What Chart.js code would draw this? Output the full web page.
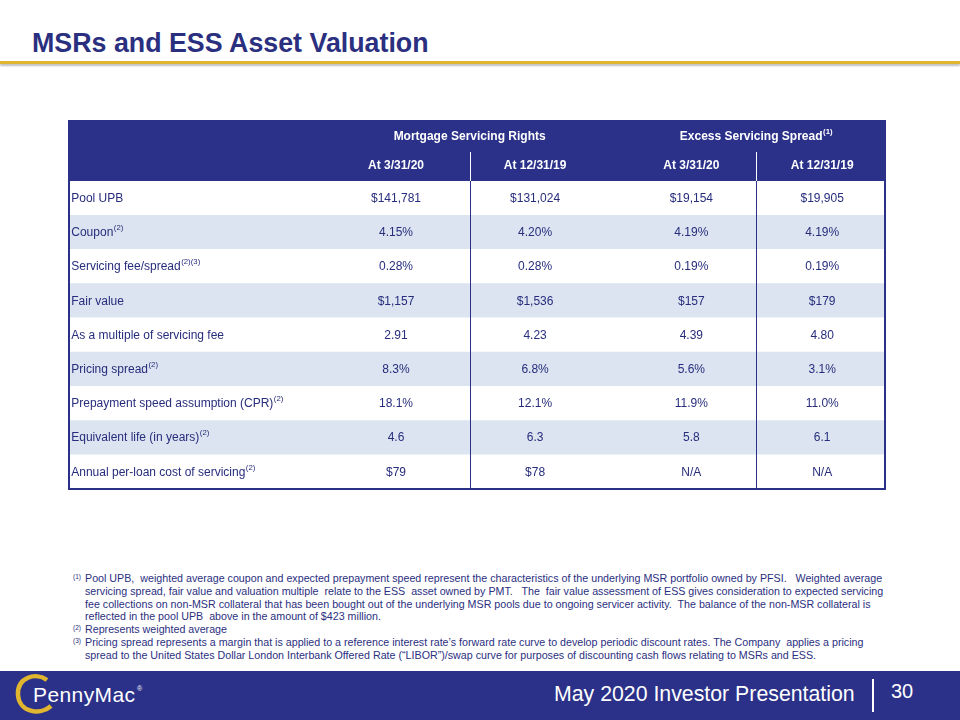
<!DOCTYPE html>
<html lang="en">
  <head>
    <meta charset="UTF-8" />
    <title>MSRs and ESS Asset Valuation</title>
    <script src="https://cdn.jsdelivr.net/npm/chart.js"></script>
    <style>
      body {
        margin: 0;
        width: 960px;
        height: 720px;
        position: relative;
        overflow: hidden;
        background: #fff;
        font-family: "Liberation Sans", Arial, sans-serif;
      }
      .title {
        position: absolute;
        left: 32px;
        top: 28px;
        font-size: 26.8px;
        line-height: 30px;
        font-weight: bold;
        color: #2b2f80;
      }
      .rule {
        position: absolute;
        left: 0;
        top: 61px;
        width: 960px;
        height: 3px;
        background: #e0b630;
        box-shadow: 0 2px 2px rgba(0, 0, 0, 0.25);
      }
      .wrap {
        position: absolute;
        left: 60px;
        top: 110px;
      }
      .notes {
        position: absolute;
        left: 73px;
        top: 572px;
        font-size: 10.7px;
        line-height: 12.75px;
        color: #2b2f80;
        white-space: pre;
      }
      .notes .n {
        display: inline-block;
        width: 12px;
        font-size: 6.5px;
        line-height: 0;
        position: relative;
        top: -3px;
      }
      .notes .i {
        padding-left: 12px;
      }
      .footer {
        position: absolute;
        left: 0;
        top: 671px;
        width: 960px;
        height: 49px;
        background: #2b3189;
        color: #fff;
      }
      .footer .pres {
        position: absolute;
        left: 554px;
        top: 10px;
        font-size: 21.3px;
        line-height: 26px;
      }
      .footer .bar {
        position: absolute;
        left: 872px;
        top: 8px;
        width: 1.5px;
        height: 33px;
        background: #fff;
      }
      .footer .page {
        position: absolute;
        left: 891px;
        top: 8px;
        font-size: 20px;
        line-height: 24px;
      }
      .footer svg {
        position: absolute;
        left: 0;
        top: 0;
      }
    </style>
  </head>
  <body>
    <div class="title">MSRs and ESS Asset Valuation</div>
    <div class="rule"></div>

    <div class="wrap">
      <canvas id="valTable" width="840" height="390"></canvas>
    </div>

    <div class="notes"><span class="n">(1)</span>Pool UPB,  weighted average coupon and expected prepayment speed represent the characteristics of the underlying MSR portfolio owned by PFSI.   Weighted average
<span class="i">servicing spread, fair value and valuation multiple  relate to the ESS  asset owned by PMT.   The  fair value assessment of ESS gives consideration to expected servicing</span>
<span class="i">fee collections on non-MSR collateral that has been bought out of the underlying MSR pools due to ongoing servicer activity.  The balance of the non-MSR collateral is</span>
<span class="i">reflected in the pool UPB  above in the amount of $423 million.</span>
<span class="n">(2)</span>Represents weighted average
<span class="n">(3)</span>Pricing spread represents a margin that is applied to a reference interest rate’s forward rate curve to develop periodic discount rates. The Company  applies a pricing
<span class="i">spread to the United States Dollar London Interbank Offered Rate (“LIBOR”)/swap curve for purposes of discounting cash flows relating to MSRs and ESS.</span></div>

    <div class="footer">
      <svg width="200" height="49">
        <path d="M47 9 C 36 1, 17 6, 18 24 C 19 41, 40 45, 51 35" fill="none" stroke="#e0b630" stroke-width="4.5" />
        <text x="33" y="31" fill="#fff" font-size="21" font-family="Liberation Sans, Arial" textLength="102">PennyMac</text>
        <text x="137" y="20" fill="#fff" font-size="7" font-family="Liberation Sans, Arial">®</text>
      </svg>
      <div class="pres">May 2020 Investor Presentation</div>
      <div class="bar"></div>
      <div class="page">30</div>
    </div>

    <script>
      // table contents
      const rowLabels = [
        "Pool UPB",
        "Coupon",
        "Servicing fee/spread",
        "Fair value",
        "As a multiple of servicing fee",
        "Pricing spread",
        "Prepayment speed assumption (CPR)",
        "Equivalent life (in years)",
        "Annual per-loan cost of servicing",
      ];
      const rowNotes = ["", "(2)", "(2)(3)", "", "", "(2)", "(2)", "(2)", "(2)"];

      const groupHeaders = ["Mortgage Servicing Rights", "Excess Servicing Spread"];
      const groupNotes = ["", "(1)"];
      const colHeaders = ["At 3/31/20", "At 12/31/19", "At 3/31/20", "At 12/31/19"];

      const msrMar20 = ["$141,781", "4.15%", "0.28%", "$1,157", "2.91", "8.3%", "18.1%", "4.6", "$79"];
      const msrDec19 = ["$131,024", "4.20%", "0.28%", "$1,536", "4.23", "6.8%", "12.1%", "6.3", "$78"];
      const essMar20 = ["$19,154", "4.19%", "0.19%", "$157", "4.39", "5.6%", "11.9%", "5.8", "N/A"];
      const essDec19 = ["$19,905", "4.19%", "0.19%", "$179", "4.80", "3.1%", "11.0%", "6.1", "N/A"];
      const columns = [msrMar20, msrDec19, essMar20, essDec19];

      // x positions in table-width units (0..100)
      const labelX = 0.4;
      const colX = [40.1, 57.1, 76.2, 92.2];
      const groupX = [49.1, 84.1];
      const dividerX = [49.1, 84.1];
      const headRowH = 30;

      const navy = "#2b3189";
      const textNavy = "#272d7c";
      const stripe = "#dbe4f0";
      const font = '"Liberation Sans", Arial, sans-serif';

      function textWithNote(ctx, text, note, x, y, size, weight, align) {
        ctx.font = weight + " " + size + "px " + font;
        const w = ctx.measureText(text).width;
        ctx.font = weight + " " + (size * 0.65).toFixed(1) + "px " + font;
        const nw = note ? ctx.measureText(note).width : 0;
        let start = align === "center" ? x - (w + nw) / 2 : x;
        ctx.textAlign = "left";
        ctx.font = weight + " " + size + "px " + font;
        ctx.fillText(text, start, y);
        if (note) {
          ctx.font = weight + " " + (size * 0.65).toFixed(1) + "px " + font;
          ctx.fillText(note, start + w + 0.5, y - 5);
        }
      }

      const tablePlugin = {
        id: "tableCells",
        afterDatasetsDraw(chart) {
          const { ctx, chartArea: a, scales } = chart;
          const x = scales.x;
          const y = scales.y;
          const headTop = a.top - 2 * headRowH;
          ctx.save();

          // header band
          ctx.fillStyle = navy;
          ctx.fillRect(a.left, headTop, a.right - a.left, 2 * headRowH);
          ctx.fillStyle = "#fff";
          ctx.textBaseline = "middle";
          groupHeaders.forEach((h, i) => {
            textWithNote(ctx, h, groupNotes[i], x.getPixelForValue(groupX[i]), headTop + headRowH / 2 + 1, 12, "bold", "center");
          });
          colHeaders.forEach((h, i) => {
            textWithNote(ctx, h, "", x.getPixelForValue(colX[i]), a.top - headRowH / 2, 12, "bold", "center");
          });
          ctx.strokeStyle = "#fff";
          ctx.lineWidth = 1;
          dividerX.forEach((d) => {
            const px = Math.round(x.getPixelForValue(d)) + 0.5;
            ctx.beginPath();
            ctx.moveTo(px, a.top - headRowH + 1);
            ctx.lineTo(px, a.top);
            ctx.stroke();
          });

          // body cells
          ctx.fillStyle = textNavy;
          rowLabels.forEach((lab, r) => {
            const py = y.getPixelForValue(r) + 0.5;
            textWithNote(ctx, lab, rowNotes[r], x.getPixelForValue(labelX), py, 12, "normal", "left");
            columns.forEach((col, c) => {
              textWithNote(ctx, col[r], "", x.getPixelForValue(colX[c]), py, 12, "normal", "center");
            });
          });
          ctx.strokeStyle = navy;
          dividerX.forEach((d) => {
            const px = Math.round(x.getPixelForValue(d)) + 0.5;
            ctx.beginPath();
            ctx.moveTo(px, a.top);
            ctx.lineTo(px, a.bottom);
            ctx.stroke();
          });

          // outer border
          ctx.lineWidth = 2;
          ctx.strokeRect(a.left + 1, headTop, a.right - a.left - 2, a.bottom - headTop);
          ctx.restore();
        },
      };

      new Chart(document.getElementById("valTable"), {
        type: "bar",
        data: {
          labels: rowLabels,
          datasets: [
            {
              label: "rows",
              data: rowLabels.map(() => [0, 100]),
              backgroundColor: rowLabels.map((_, i) => (i % 2 ? stripe : "#ffffff")),
              borderWidth: 0,
              barPercentage: 1,
              categoryPercentage: 1,
            },
          ],
        },
        options: {
          indexAxis: "y",
          responsive: false,
          animation: false,
          layout: { padding: { left: 8, right: 14, top: 71, bottom: 11 } },
          plugins: { legend: { display: false }, tooltip: { enabled: false } },
          scales: {
            x: { type: "linear", min: 0, max: 100, display: false },
            y: { type: "category", display: false, offset: true },
          },
        },
        plugins: [tablePlugin],
      });
    </script>
  </body>
</html>
